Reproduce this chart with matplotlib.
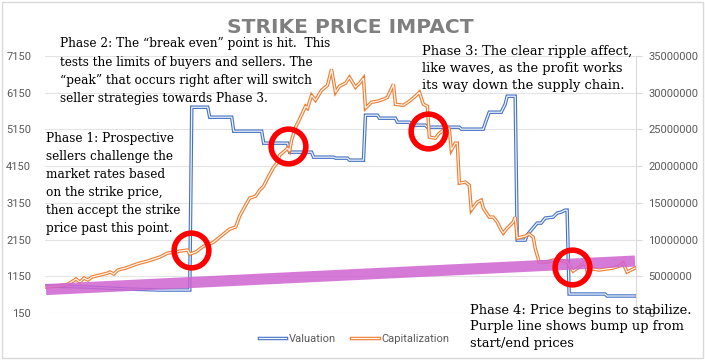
import numpy as np
import matplotlib
matplotlib.use('Agg')
from matplotlib import pyplot as plt
from matplotlib import patheffects as pe
from matplotlib.patches import Rectangle

# Valuation (left axis), step-like series
days_val = [0, 21, 41, 57, 72, 73, 81, 82, 93, 94,
            108, 109, 121, 122, 133, 134, 144, 145, 151, 152,
            159, 160, 166, 167, 175, 176, 182, 183, 190, 191,
            207, 208, 219, 220, 222, 228, 230, 231, 235, 236,
            240, 241, 243, 246, 248, 250, 254, 256, 258, 260,
            261, 262, 280, 281, 295]
valuation = [885, 857, 803, 776, 776, 5755, 5755, 5483, 5483, 5102,
             5102, 4776, 4776, 4531, 4531, 4395, 4395, 4368, 4368, 4313,
             4313, 5538, 5538, 5456, 5456, 5347, 5347, 5266, 5266, 5211,
             5211, 5157, 5157, 5320, 5619, 5619, 5837, 6055, 6055, 2136,
             2136, 2272, 2408, 2599, 2599, 2735, 2762, 2871, 2898, 2952,
             2952, 667, 667, 613, 613]

# Capitalization (right axis), millions
days_cap = [0, 5, 10, 12, 15, 17, 19, 21, 23, 27,
            31, 32, 34, 36, 40, 44, 47, 51, 54, 57,
            61, 65, 67, 71, 72, 75, 79, 81, 84, 87,
            92, 95, 97, 100, 102, 105, 107, 109, 111, 114,
            116, 117, 120, 121, 122, 123, 125, 127, 130, 131,
            133, 135, 138, 141, 143, 145, 147, 150, 152, 155,
            157, 159, 160, 163, 166, 169, 171, 174, 175, 179,
            182, 185, 187, 189, 191, 192, 195, 197, 201, 202,
            203, 205, 206, 207, 210, 212, 213, 216, 218, 219,
            222, 224, 226, 228, 229, 231, 234, 235, 236, 240,
            242, 244, 245, 247, 251, 254, 257, 261, 264, 267,
            270, 271, 274, 277, 284, 287, 289, 291, 295]
capitalization_m = [3.54, 3.67, 3.81, 4.08, 4.63, 4.22, 4.76, 4.49, 4.90, 5.17,
                    5.44, 5.58, 5.31, 5.85, 6.12, 6.53, 6.80, 7.07, 7.35, 7.62,
                    8.16, 8.30, 8.43, 8.57, 8.03, 8.30, 9.11, 9.25, 9.66, 10.34,
                    11.43, 11.70, 13.20, 14.69, 15.64, 15.92, 16.73, 17.28, 18.36, 19.86,
                    20.54, 21.49, 22.17, 22.45, 22.04, 23.53, 25.30, 26.39, 28.16, 27.89,
                    29.65, 28.97, 30.33, 31.01, 33.19, 30.06, 30.88, 31.29, 32.10, 30.74,
                    31.29, 31.97, 27.89, 28.70, 28.84, 29.11, 29.38, 31.15, 28.43, 28.29,
                    28.84, 29.52, 30.06, 28.43, 28.16, 23.94, 23.81, 24.49, 25.30, 25.03,
                    22.17, 23.13, 23.13, 17.68, 17.82, 17.41, 14.01, 15.10, 15.37, 14.28,
                    13.06, 13.06, 12.38, 11.29, 10.88, 11.56, 12.38, 13.06, 10.20, 10.47,
                    10.75, 10.34, 8.84, 6.94, 6.94, 7.21, 7.21, 6.94, 5.71, 6.26,
                    6.94, 5.71, 5.99, 5.85, 6.12, 6.39, 6.80, 5.58, 6.12]

# purple "strike" line (start/end, left axis units)
strike_days = [0, 295]
strike_line = [789, 1565]

# red highlight circles (day, left axis value)
circle_days = [72.5, 121, 191.5, 263.5]
circle_vals = [1864, 4694, 5102, 1402]

left_ticks = [150, 1150, 2150, 3150, 4150, 5150, 6150, 7150]
right_ticks = [0, 5000000, 10000000, 15000000, 20000000, 25000000, 30000000, 35000000]

title = "STRIKE PRICE IMPACT"
phase1 = ("Phase 1: Prospective\nsellers challenge the\nmarket rates based\n"
          "on the strike price,\nthen accept the strike\nprice past this point.")
phase2 = ("Phase 2: The \u201cbreak even\u201d point is hit.  This\n"
          "tests the limits of buyers and sellers. The\n"
          "\u201cpeak\u201d that occurs right after will switch\n"
          "seller strategies towards Phase 3.")
phase3 = ("Phase 3: The clear ripple affect,\nlike waves, as the profit works\n"
          "its way down the supply chain.")
phase4 = ("Phase 4: Price begins to stabilize.\nPurple line shows bump up from\n"
          "start/end prices")

blue = '#4472C4'
orange = '#ED7D31'
grey = '#595959'
W, H = 705, 360

fig = plt.figure(figsize=(W / 100, H / 100), dpi=100)
ax1 = fig.add_axes([45 / W, 1 - 313 / H, (636 - 45) / W, (313 - 56) / H])
ax2 = ax1.twinx()

ax1.set_xlim(-0.5, 295.5)
ax1.set_ylim(150, 7150)
ax2.set_ylim(0, 35000000)

ax1.set_yticks(left_ticks)
ax1.set_yticklabels([str(t) for t in left_ticks])
ax2.set_yticks(right_ticks)
ax2.set_yticklabels([str(t) for t in right_ticks])
ax1.set_xticks([])

for a in (ax1, ax2):
    for s in a.spines.values():
        s.set_visible(False)
ax2.spines['right'].set_visible(True)
ax2.spines['right'].set_color('#D9D9D9')
ax2.spines['right'].set_linewidth(0.8)

ax1.grid(axis='y', color='#E4E4E4', lw=0.8)
ax1.set_axisbelow(True)
ax1.tick_params(axis='y', length=0, pad=10, labelcolor=grey, labelsize=8)
ax2.tick_params(axis='y', length=4, width=0.8, color='#D9D9D9', pad=5,
                labelcolor=grey, labelsize=8)
for lab in ax1.get_yticklabels() + ax2.get_yticklabels():
    lab.set_fontfamily('Roboto')

dbl_b = [pe.Normal(), pe.Stroke(linewidth=0.9, foreground='#F2F5FB')]
dbl_o = [pe.Normal(), pe.Stroke(linewidth=0.9, foreground='#FFF6F0')]

l1, = ax1.plot(days_val, valuation, color=blue, lw=2.5,
               solid_joinstyle='miter', path_effects=dbl_b, label='Valuation')
l2, = ax2.plot(days_cap, np.array(capitalization_m) * 1e6, color=orange, lw=2.5,
               solid_joinstyle='miter', path_effects=dbl_o, label='Capitalization')

# purple strike line drawn over the series
ax2.plot(strike_days, strike_line, transform=ax1.transData, color='#CF63D1',
         alpha=0.85, lw=8, solid_capstyle='butt', zorder=5)

# red circles
ax2.plot(circle_days, circle_vals, transform=ax1.transData, ls='none', marker='o',
         ms=25, mfc='none', mec='#FF0000', mew=4, zorder=6)

ax2.set_xlim(-0.5, 295.5)

leg = fig.legend(handles=[l1, l2], loc='center', bbox_to_anchor=(354 / W, 1 - 339 / H),
                 ncol=2, frameon=False, handlelength=2.5, handletextpad=0.2,
                 columnspacing=1.4, prop={'family': 'Roboto', 'size': 8})
for t in leg.get_texts():
    t.set_color(grey)

fig.text(350 / W, 1 - 33 / H, title, ha='center', va='baseline',
         fontsize=14.6, fontweight='bold', color='#7F7F7F', family='DejaVu Sans')

# multiline text: y is the baseline of the last line
serif = dict(family='DejaVu Serif', color='black', va='baseline', ha='left', zorder=7)
fig.text(60 / W, 1 - 102 / H, phase2, fontsize=8.7, linespacing=1.52, **serif)
fig.text(46 / W, 1 - 232 / H, phase1, fontsize=8.7, linespacing=1.51, **serif)
fig.text(422 / W, 1 - 88.5 / H, phase3, fontsize=9.4, linespacing=1.39, **serif)
fig.text(470 / W, 1 - 347 / H, phase4, fontsize=9.35, linespacing=1.37, **serif)

fig.patches.append(Rectangle((2 / W, 2 / H), (W - 4) / W, (H - 4) / H,
                             transform=fig.transFigure, fill=False,
                             ec='#D9D9D9', lw=1))

fig.savefig('out.png', dpi=100)
